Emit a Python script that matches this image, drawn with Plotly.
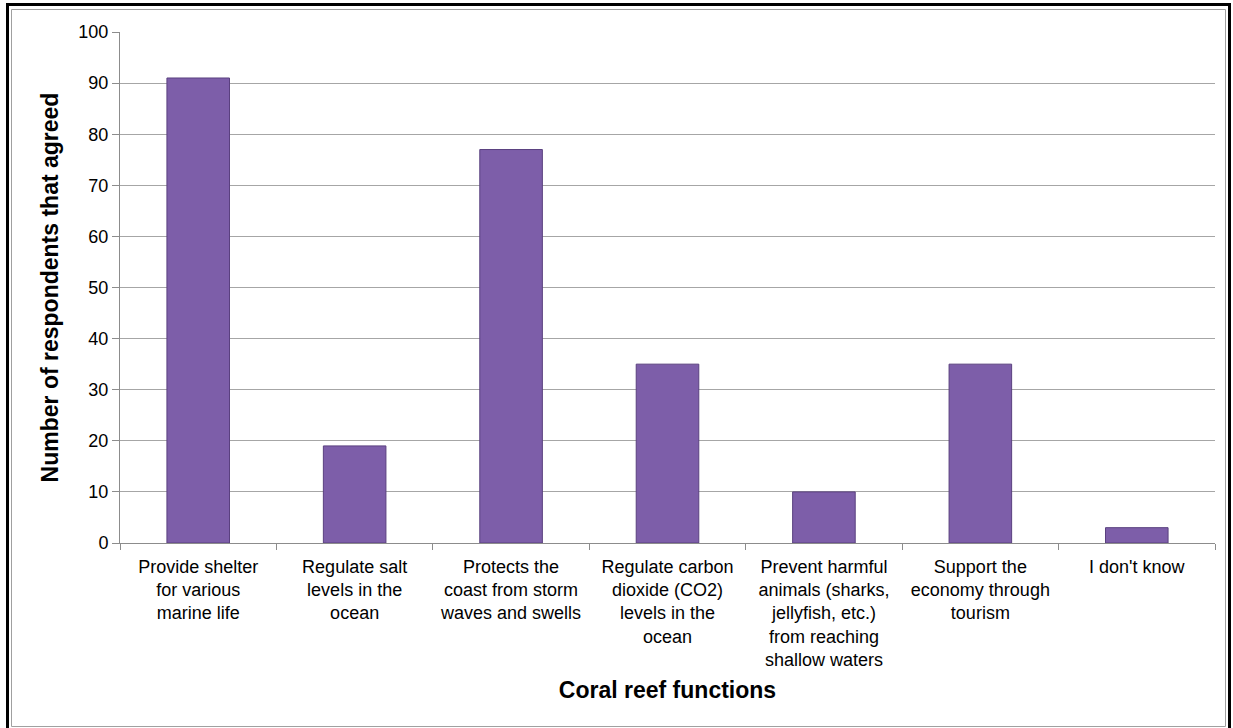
import plotly.graph_objects as go

categories = [
    "Provide shelter<br>for various<br>marine life",
    "Regulate salt<br>levels in the<br>ocean",
    "Protects the<br>coast from storm<br>waves and swells",
    "Regulate carbon<br>dioxide (CO2)<br>levels in the<br>ocean",
    "Prevent harmful<br>animals (sharks,<br>jellyfish, etc.)<br>from reaching<br>shallow waters",
    "Support the<br>economy through<br>tourism",
    "I don't know",
]
values = [91, 19, 77, 35, 10, 35, 3]
y_ticks = list(range(0, 101, 10))

fig = go.Figure()
fig.add_trace(go.Bar(
    x=categories, y=values,
    marker=dict(color="#7D5EA9", line=dict(color="#5A407F", width=1)),
))

font = "Liberation Sans, Arial, sans-serif"
L, T, R, B = 120, 32, 18, 185
W, H = 1233, 728
PW, PH = W - L - R, H - T - B


def px(x):
    return (x - L) / PW


def py(y):
    return (H - B - y) / PH


fig.update_layout(
    width=W, height=H,
    margin=dict(l=L, r=R, t=T, b=B),
    paper_bgcolor="white", plot_bgcolor="white",
    bargap=0.6, showlegend=False,
    font=dict(family=font, size=18, color="black"),
    xaxis=dict(
        type="category", showline=True, linecolor="#8C8C8C", linewidth=1,
        ticks="outside", tickson="boundaries", ticklen=6, tickcolor="#8C8C8C",
        tickfont=dict(size=18, family=font), showgrid=False,
        ticklabelstandoff=7,
        title=dict(text="<b>Coral reef functions</b>", font=dict(size=23, family=font), standoff=12),
        tickangle=0,
    ),
    yaxis=dict(
        range=[0, 100], tickvals=y_ticks, showline=True, linecolor="#8C8C8C", linewidth=1,
        ticks="outside", ticklen=7, tickcolor="#8C8C8C",
        showgrid=True, gridcolor="#A6A6A6", gridwidth=1,
        tickfont=dict(size=18, family=font), zeroline=False,
        title=dict(text="<b>Number of respondents that agreed</b>", font=dict(size=23, family=font), standoff=13),
    ),
    shapes=[
        dict(type="rect", xref="paper", yref="paper",
             x0=px(7.5), x1=px(1229.5), y0=py(731), y1=py(4.5),
             line=dict(color="black", width=3), fillcolor="rgba(0,0,0,0)", layer="below"),
        dict(type="rect", xref="paper", yref="paper",
             x0=px(11.5), x1=px(1225.5), y0=py(726.5), y1=py(9.5),
             line=dict(color="#A0A0A0", width=1), fillcolor="rgba(0,0,0,0)", layer="below"),
    ],
)

fig.write_html("out.html", config={"displayModeBar": False},
               post_script="document.body.style.margin='0';")
